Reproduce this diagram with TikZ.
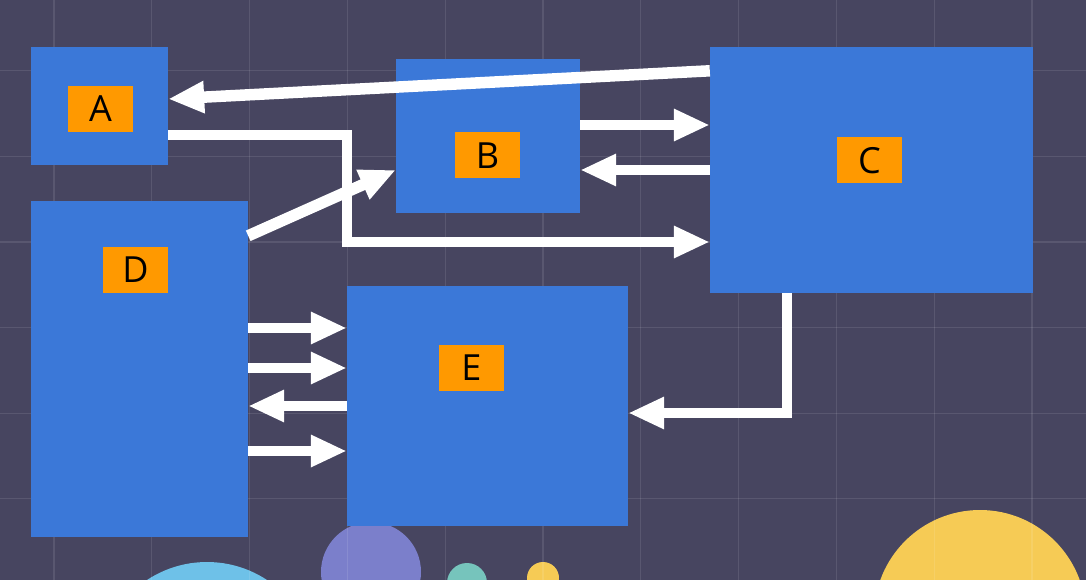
\documentclass[tikz,border=0pt]{standalone}
\usepackage{fontspec}
\setmainfont{Open Sans}
\usetikzlibrary{arrows.meta}

\definecolor{bgcol}{HTML}{474560}
\definecolor{boxblue}{HTML}{3B78D8}
\definecolor{tagorange}{HTML}{FF9900}
\definecolor{dotblue}{HTML}{6EC1E8}
\definecolor{dotpurple}{HTML}{7B7FCB}
\definecolor{dotteal}{HTML}{76C4BC}
\definecolor{dotyellow}{HTML}{F6CB55}

\begin{document}
\begin{tikzpicture}[x=1pt,y=-1pt,>={Triangle[length=36pt,width=30pt]}]

					\tikzstyle{block}=[rectangle,fill=boxblue,inner sep=0pt]
					\tikzstyle{tag}=[rectangle,fill=tagorange,minimum width=65pt,minimum height=46pt,inner sep=0pt,font=\fontsize{36}{36}\selectfont]
					\tikzstyle{flow}=[->,draw=white,line width=9.5pt,line join=miter]
					\tikzstyle{slant}=[flow,line width=11.5pt]
					\tikzstyle{gridline}=[draw=white,opacity=0.1,line width=1.2pt]

					\fill[bgcol] (0,0) rectangle (1086,580);
					\useasboundingbox (0,0) rectangle (1086,580);

					% circles at the bottom
					\fill[dotblue] (207,671) circle (109);
					\fill[dotpurple] (371,572) circle (50);
					\fill[dotteal] (467,583) circle (20);
					\fill[dotyellow] (543,578) circle (16);
					\fill[dotyellow] (980,616) circle (106);

					\foreach \i in {0,...,10}
						\draw[gridline] ({54+97.8*\i},0) -- ({54+97.8*\i},580);
					\foreach \j in {0,...,5}
						\draw[gridline] (0,{70.7+85.6*\j}) -- (1086,{70.7+85.6*\j});

					\node[block,minimum width=137pt,minimum height=118pt] (A) at (99.5,106) {};
					\node[block,minimum width=184pt,minimum height=154pt] (B) at (488,136) {};
					\node[block,minimum width=323pt,minimum height=246pt] (C) at (871.5,170) {};
					\node[block,minimum width=217pt,minimum height=336pt] (D) at (139.5,369) {};
					\node[block,minimum width=281pt,minimum height=240pt] (E) at (487.5,406) {};

					\node[tag] (tA) at (100.5,109) {A};
					\node[tag] (tB) at (487.5,155.5) {B};
					\node[tag] (tC) at (869.5,160.5) {C};
					\node[tag] (tD) at (135.5,270) {D};
					\node[tag] (tE) at (471.5,368) {E};

					\coordinate (cIn) at ([yshift=-72pt]C.west);
					\coordinate (cOut) at ([xshift=-84.5pt]C.south);
					\coordinate (eIn) at ([yshift=-7pt]E.east);

					\draw[slant] ([yshift=-24pt]C.north west) -- ([yshift=7pt]A.east);
					\draw[flow] ([yshift=-29pt]A.east) -| (cIn -| E.west) -- (cIn);
					\draw[slant] ([yshift=-35pt]D.north east) -- ([yshift=-34pt]B.west);
					\draw[flow] ([yshift=11pt]B.east) -- ([yshift=45pt]C.west);
					\draw[flow] (C.west) -- ([yshift=-34pt]B.east);
					\draw[flow] (cOut) |- (eIn);

					\draw[flow] ([yshift=41pt]D.east) -- ([yshift=78pt]E.west);
					\draw[flow] ([yshift=1pt]D.east) -- ([yshift=38pt]E.west);
					\draw[flow] (E.west) -- ([yshift=-37pt]D.east);
					\draw[flow] ([yshift=-82pt]D.east) -- ([yshift=-45pt]E.west);
\end{tikzpicture}
\end{document}
